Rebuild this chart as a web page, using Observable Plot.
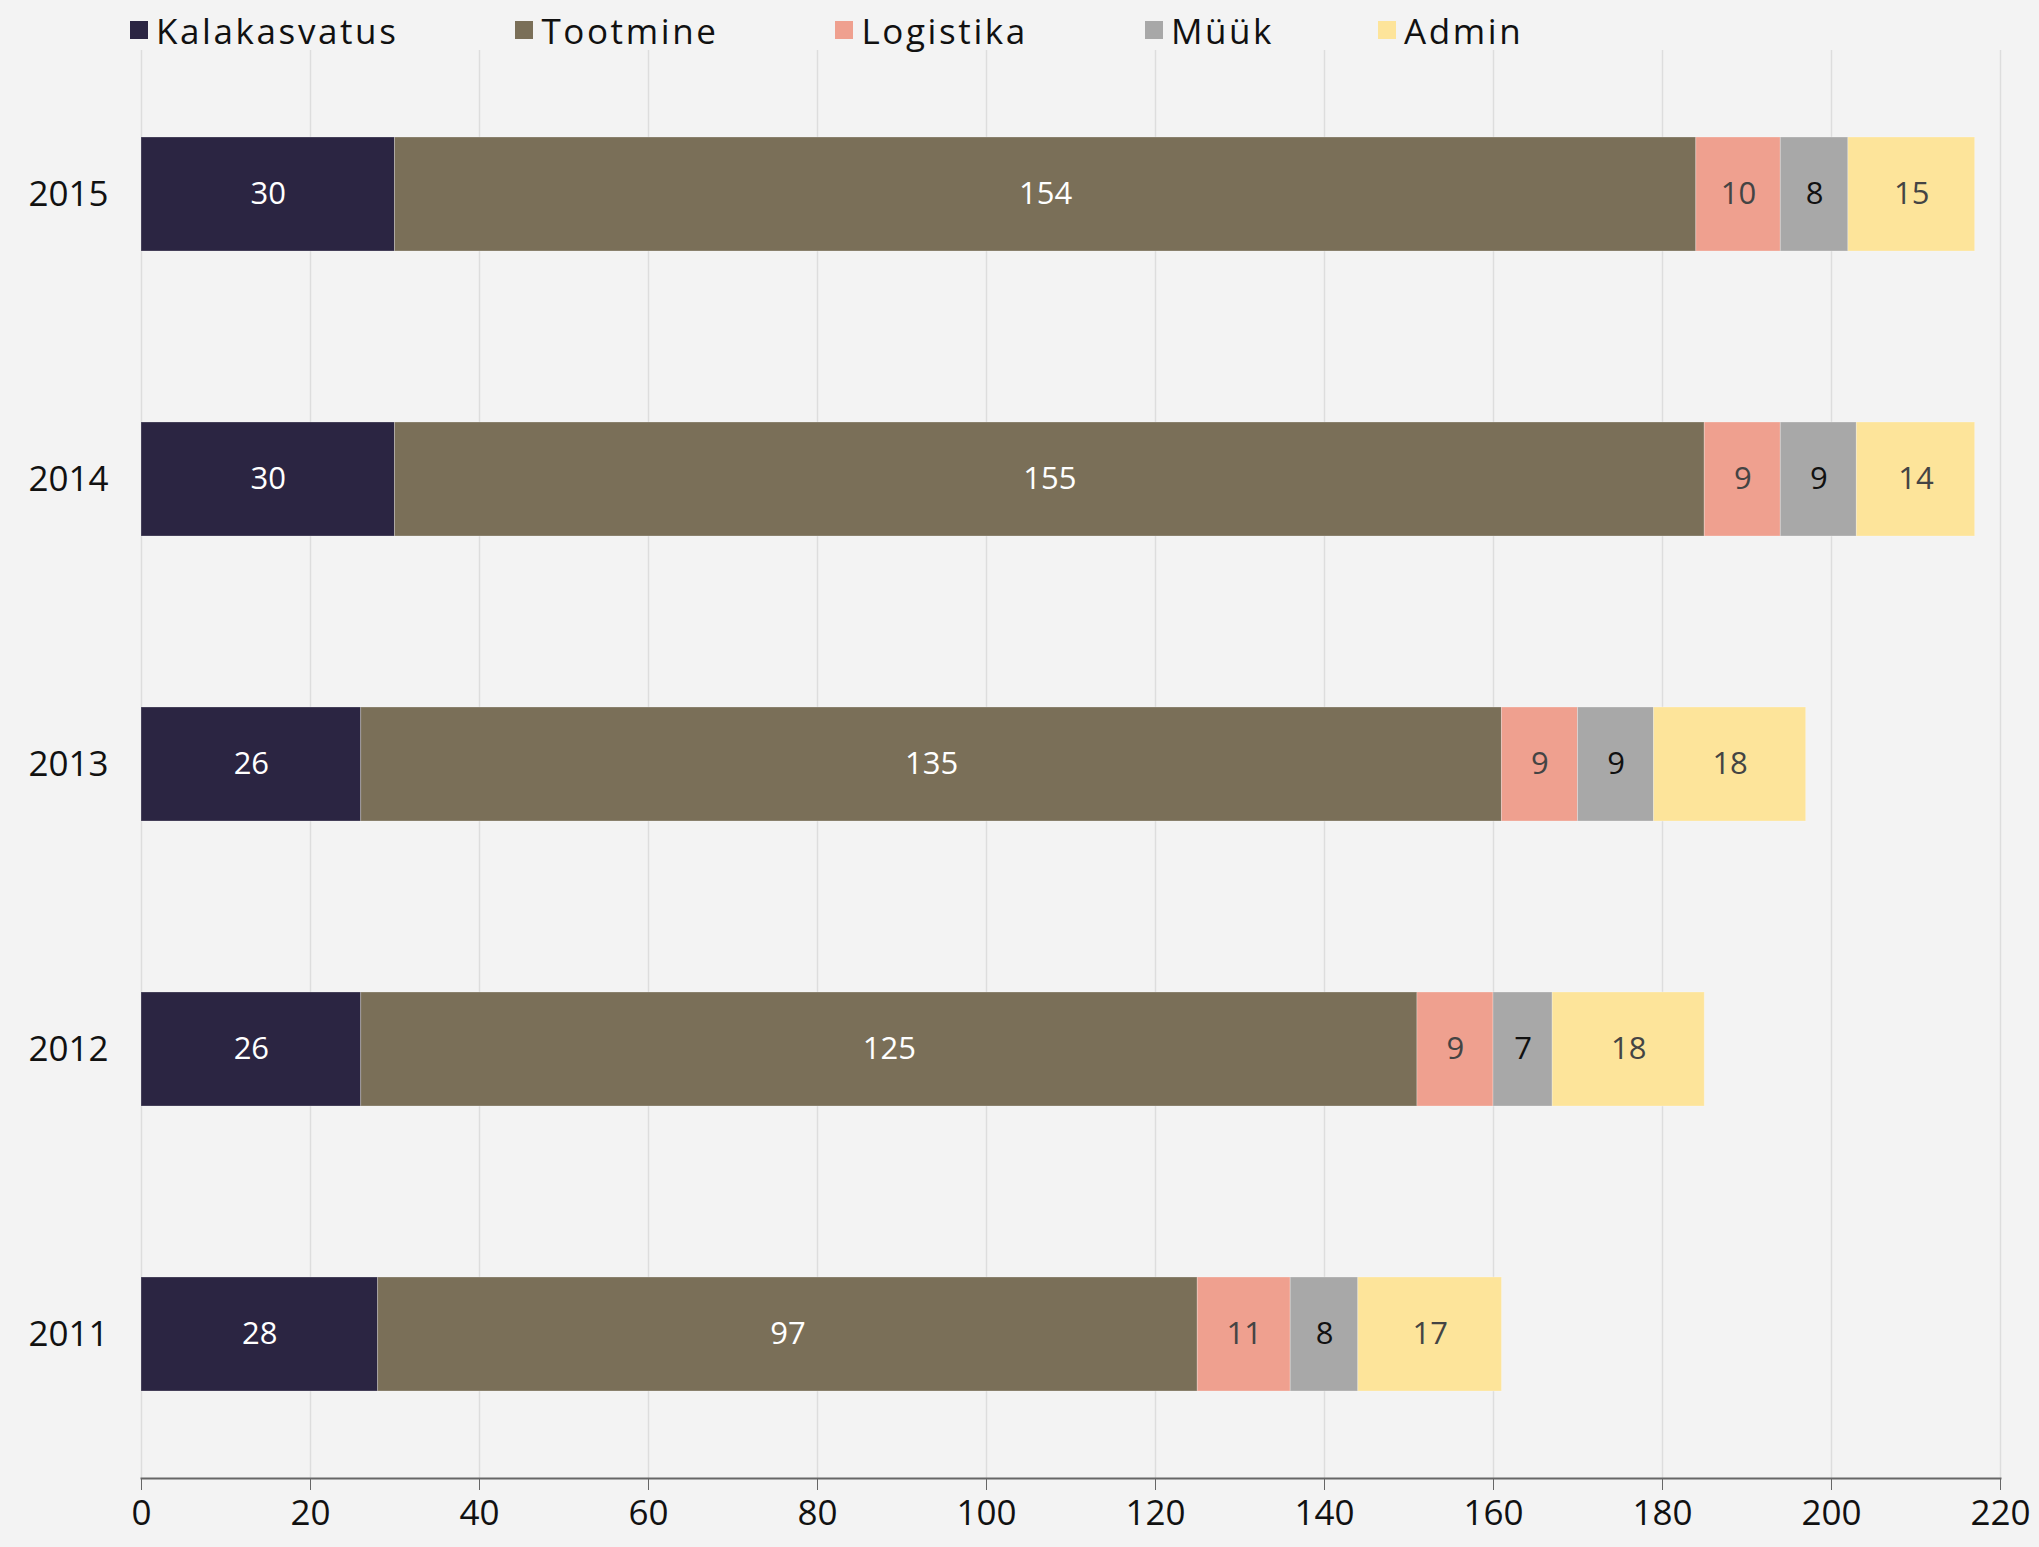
<!DOCTYPE html>
<html>
<head>
<meta charset="utf-8">
<script src="https://cdn.jsdelivr.net/npm/d3@7"></script>
<script src="https://cdn.jsdelivr.net/npm/@observablehq/plot@0.6"></script>
<style>
  html, body { margin: 0; padding: 0; background: #F3F3F3; }
  #legend { display: flex; align-items: center; height: 50px; padding-left: 130px; padding-top: 10px; box-sizing: border-box;
    font-family: "Open Sans", Lato, sans-serif; font-size: 35px; color: #111; letter-spacing: 2.6px; }
  .item { display: flex; align-items: center; margin-right: 117px; }
  .item:nth-child(4) { margin-right: 104px; }
  .sw { width: 18px; height: 18px; margin-right: 8px; }
</style>
</head>
<body>
<div id="legend"></div>
<div id="chart"></div>
<script>
const years = ["2015", "2014", "2013", "2012", "2011"];
const categories = ["Kalakasvatus", "Tootmine", "Logistika", "Müük", "Admin"];
const colors = ["#2B2542", "#7A6F58", "#EFA08F", "#A8A8A8", "#FDE49A"];
const labelColors = ["#FFFFFF", "#FFFFFF", "#444444", "#111111", "#444444"];
const Kalakasvatus = [30, 30, 26, 26, 28];
const Tootmine = [154, 155, 135, 125, 97];
const Logistika = [10, 9, 9, 9, 11];
const Muuk = [8, 9, 9, 7, 8];
const Admin = [15, 14, 18, 18, 17];
const xTicks = [0, 20, 40, 60, 80, 100, 120, 140, 160, 180, 200, 220];

const series = [Kalakasvatus, Tootmine, Logistika, Muuk, Admin];
const data = [];
years.forEach((y, i) => {
  categories.forEach((c, j) => {
    data.push({year: y, cat: c, value: series[j][i], color: colors[j], label: labelColors[j]});
  });
});

const legend = document.getElementById("legend");
categories.forEach((c, j) => {
  const it = document.createElement("div");
  it.className = "item";
  it.innerHTML = `<div class="sw" style="background:${colors[j]}"></div><span>${c}</span>`;
  legend.appendChild(it);
});

const chart = Plot.plot({
  width: 2039,
  height: 1497,
  marginTop: 0,
  marginBottom: 69,
  marginLeft: 141,
  marginRight: 39,
  style: {fontFamily: "'Open Sans', Lato, sans-serif", fontSize: "35px", background: "#F3F3F3", color: "#111"},
  x: {domain: [0, 220], ticks: xTicks, label: null},
  y: {domain: years, paddingInner: 0.6, paddingOuter: 0.3, label: null},
  color: {type: "identity"},
  marks: [
    Plot.gridX(xTicks, {stroke: "#DDDDDD", strokeOpacity: 1, strokeWidth: 1.5}),
    Plot.barX(data, Plot.stackX({x: "value", y: "year", z: "cat", fill: "color", stroke: "#FFFFFF", strokeOpacity: 0.25, strokeWidth: 1})),
    Plot.text(data, Plot.stackX({x: "value", y: "year", z: "cat", text: d => String(d.value), fill: "label", fontSize: 31})),
    Plot.frame({anchor: "bottom", stroke: "#666", strokeWidth: 2}),
    Plot.axisX({ticks: xTicks, tickSize: 12, tickPadding: 10, stroke: "#666", fill: "#111", fontSize: 35}),
    Plot.axisY({tickSize: 0, tickPadding: 33, fill: "#111", fontSize: 35})
  ]
});
document.getElementById("chart").appendChild(chart);
</script>
</body>
</html>
